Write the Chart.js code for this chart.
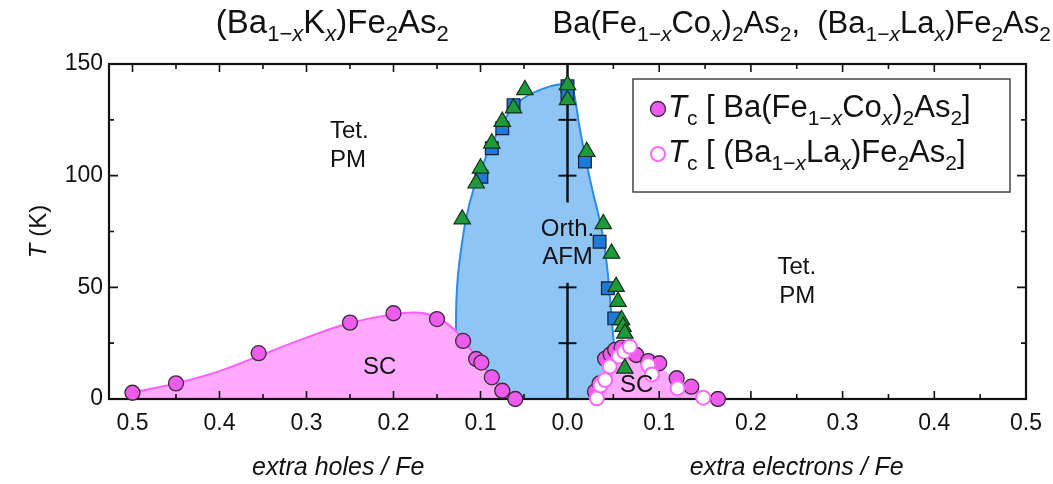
<!DOCTYPE html>
<html>
<head>
<meta charset="utf-8">
<script src="https://cdn.jsdelivr.net/npm/chart.js@4.4.1/dist/chart.umd.min.js"></script>
<style>
  html, body { margin: 0; padding: 0; background: #fff; }
</style>
</head>
<body>
<canvas id="phase" width="1053" height="484"></canvas>
<script>
// --- data (x: doping per Fe, holes negative; T in K) ---

// (Ba1-xKx)Fe2As2 Tc points (hole side)
var kX  = [-0.50, -0.45, -0.355, -0.25, -0.20, -0.15, -0.12, -0.105, -0.099, -0.087, -0.075, -0.06];
var kTc = [2.8, 7.0, 20.5, 34.2, 38.4, 35.8, 26.0, 17.9, 16.3, 9.7, 3.7, 0];

// SC dome guide line, hole side
var kCurveX = [-0.50, -0.45, -0.40, -0.35, -0.30, -0.25, -0.20, -0.17, -0.15, -0.13, -0.11, -0.09, -0.075, -0.06];
var kCurveT = [3, 7, 12.5, 20, 27.5, 34, 38, 38.6, 36.5, 31, 21.5, 11.5, 4, 0];

// AFM dome outline
var domeLX = [-0.128, -0.128, -0.126, -0.123, -0.117, -0.108, -0.098, -0.089, -0.075, -0.062, -0.045, -0.031, -0.015, 0];
var domeLT = [0, 40, 55, 65, 80, 94, 104, 113, 123, 131, 136, 138.5, 140.5, 141];
var domeRX = [-0.003, 0, 0.006, 0.013, 0.020, 0.028, 0.034, 0.039, 0.044, 0.048, 0.052, 0.056];
var domeRT = [141, 141, 138.5, 122, 107, 92, 82, 72, 56, 37, 18, 0];

// SC region, electron side
var scRX = [0.028, 0.033, 0.040, 0.048, 0.056, 0.065, 0.075, 0.09, 0.11, 0.13, 0.15, 0.167];
var scRT = [0, 6, 14, 19.5, 22, 23.5, 22, 17.5, 11.5, 6.5, 2.5, 0];

// transition temperatures (triangles / squares)
var triLX = [-0.121, -0.105, -0.100, -0.087, -0.075, -0.062, -0.049, 0];
var triLT = [80.5, 96.6, 103.3, 114.5, 124.2, 130.2, 138.4, 140.6];
var triRX = [0, 0.021, 0.039, 0.048, 0.053, 0.055, 0.059, 0.0605, 0.0625, 0.0625];
var triRT = [133.9, 110.7, 78.4, 65.2, 50.3, 43.6, 35.4, 32.4, 29.4, 13.7];
var sqLX = [-0.099, -0.087, -0.075, -0.062];
var sqLT = [99.5, 112.3, 121.2, 131.6];
var sqRX = [0, 0, 0.019, 0.035, 0.044, 0.051];
var sqRT = [140, 136.5, 106.3, 70.4, 49.6, 36.1];

// Tc Ba(Fe1-xCox)2As2
var coX  = [0.030, 0.035, 0.041, 0.047, 0.052, 0.059, 0.066, 0.075, 0.088, 0.100, 0.119, 0.135, 0.164];
var coTc = [3.3, 7, 18, 20, 22, 23, 22.7, 19.7, 17, 16, 9.3, 5.5, 0];

// Tc (Ba1-xLax)Fe2As2
var laX  = [0.032, 0.036, 0.041, 0.046, 0.056, 0.062, 0.068, 0.088, 0.092, 0.12, 0.148];
var laTc = [0.3, 6, 8.5, 14.5, 19, 21.2, 23.4, 15.2, 11, 4.8, 0.6];

// vertical guide at x = 0 (broken around the label) and its ticks
var zeroLowT = [0, 52];
var zeroHighT = [88, 150];
var zeroTickT = [25, 50, 100, 125];

// axis ticks
var xTickVals = [0.05, 0.1, 0.15, 0.2, 0.25, 0.3, 0.35, 0.4, 0.45, 0.5];
var tTickVals = [25, 50, 75, 100, 125];

var FONT = '"Liberation Sans", Arial, Helvetica, sans-serif';
Chart.defaults.font.family = FONT;
Chart.defaults.color = '#111';

function pts(xs, ys) {
  return xs.map(function (x, i) { return { x: x, y: ys[i] }; });
}
function xsAt(v, arr) { return arr.map(function () { return v; }); }

// rich text: runs of [text, style], style n / i / s (sub) / si (sub italic)
function runFont(st, size) {
  var sub = st.indexOf('s') >= 0;
  return (st.indexOf('i') >= 0 ? 'italic ' : '') + Math.round(sub ? size * 0.68 : size) + 'px ' + FONT;
}
function drawRich(ctx, runs, x, y, size, align) {
  var w = 0;
  runs.forEach(function (r) { ctx.font = runFont(r[1], size); w += ctx.measureText(r[0]).width; });
  var cx = align === 'center' ? x - w / 2 : x;
  ctx.textAlign = 'left';
  ctx.textBaseline = 'alphabetic';
  runs.forEach(function (r) {
    ctx.font = runFont(r[1], size);
    ctx.fillText(r[0], cx, y + (r[1].indexOf('s') >= 0 ? size * 0.25 : 0));
    cx += ctx.measureText(r[0]).width;
  });
}

var title1 = [['(Ba','n'],['1\u2212','s'],['x','si'],['K','n'],['x','si'],[')Fe','n'],['2','s'],['As','n'],['2','s']];
var title2 = [['Ba(Fe','n'],['1\u2212','s'],['x','si'],['Co','n'],['x','si'],[')','n'],['2','s'],['As','n'],['2','s'],
  [',  (Ba','n'],['1\u2212','s'],['x','si'],['La','n'],['x','si'],[')Fe','n'],['2','s'],['As','n'],['2','s']];
var leg1 = [['T','i'],['c','s'],[' [ Ba(Fe','n'],['1\u2212','s'],['x','si'],['Co','n'],['x','si'],[')','n'],['2','s'],['As','n'],['2','s'],[']','n']];
var leg2 = [['T','i'],['c','s'],[' [ (Ba','n'],['1\u2212','s'],['x','si'],['La','n'],['x','si'],[')Fe','n'],['2','s'],['As','n'],['2','s'],[']','n']];

var notes = [
  { axis: 'xL', x: -0.273, t: 120, text: 'Tet.', align: 'left' },
  { axis: 'xL', x: -0.273, t: 107, text: 'PM', align: 'left' },
  { axis: 'xR', x: 0.229, t: 59, text: 'Tet.', align: 'left' },
  { axis: 'xR', x: 0.231, t: 46, text: 'PM', align: 'left' },
  { axis: 'xL', x: 0, t: 76, text: 'Orth.', align: 'center' },
  { axis: 'xL', x: 0, t: 63.5, text: 'AFM', align: 'center' },
  { axis: 'xL', x: -0.216, t: 14.3, text: 'SC', align: 'center' },
  { axis: 'xR', x: 0.0754, t: 6.3, text: 'SC', align: 'center' }
];

var coStyle = { bg: '#ee5cee', border: '#3a2a3a', bw: 1.3, r: 7.5 };
var laStyle = { bg: '#ffffff', border: '#ff66ff', bw: 2, r: 7 };

// frame + inward ticks, drawn over the filled areas but under the markers
var framePlugin = {
  id: 'frame',
  afterDatasetDraw: function (chart, args) {
    if (!chart.data.datasets[args.index].frameAfter) return;
    var ctx = chart.ctx, a = chart.chartArea, s = chart.scales;
    ctx.save();
    ctx.strokeStyle = '#111';
    ctx.lineWidth = 1.6;
    ctx.beginPath();
    xTickVals.forEach(function (v) {
      var len = Math.round(v * 100) % 10 === 0 ? 8 : 5;
      [s.xL.getPixelForValue(-v), s.xR.getPixelForValue(v)].forEach(function (px) {
        ctx.moveTo(px, a.bottom); ctx.lineTo(px, a.bottom - len);
        ctx.moveTo(px, a.top); ctx.lineTo(px, a.top + len);
      });
    });
    tTickVals.forEach(function (v) {
      var len = v % 50 === 0 ? 9 : 5;
      var py = s.y.getPixelForValue(v);
      ctx.moveTo(a.left, py); ctx.lineTo(a.left + len, py);
      ctx.moveTo(a.right, py); ctx.lineTo(a.right - len, py);
    });
    ctx.stroke();
    ctx.lineWidth = 2.2;
    ctx.strokeRect(a.left, a.top, a.right - a.left, a.bottom - a.top);
    ctx.restore();
  }
};

var textPlugin = {
  id: 'texts',
  afterDraw: function (chart) {
    var ctx = chart.ctx, s = chart.scales, a = chart.chartArea;
    ctx.save();
    ctx.fillStyle = '#111';
    // headings over each half
    drawRich(ctx, title1, (s.xL.left + s.xL.right) / 2 - 6, 33, 33, 'center');
    drawRich(ctx, title2, (s.xR.left + s.xR.right) / 2 + 5, 33, 31, 'center');
    // region labels
    notes.forEach(function (n) {
      ctx.font = '24px ' + FONT;
      ctx.textAlign = n.align;
      ctx.textBaseline = 'middle';
      ctx.fillText(n.text, s[n.axis].getPixelForValue(n.x), s.y.getPixelForValue(n.t));
    });
    // y title
    ctx.save();
    ctx.translate(46, (a.top + a.bottom) / 2);
    ctx.rotate(-Math.PI / 2);
    drawRich(ctx, [['T', 'i'], [' (K)', 'n']], 0, 0, 24, 'center');
    ctx.restore();
    // legend
    var bx = 633, by = 79, bw = 377, bh = 113;
    ctx.fillStyle = '#fff';
    ctx.fillRect(bx, by, bw, bh);
    ctx.strokeStyle = '#444';
    ctx.lineWidth = 1.5;
    ctx.strokeRect(bx, by, bw, bh);
    [[coStyle, leg1, 109], [laStyle, leg2, 154]].forEach(function (e) {
      var st = e[0];
      ctx.beginPath();
      ctx.arc(bx + 25, by + e[2] - 79, st.r, 0, Math.PI * 2);
      ctx.fillStyle = st.bg;
      ctx.fill();
      ctx.lineWidth = st.bw;
      ctx.strokeStyle = st.border;
      ctx.stroke();
      ctx.fillStyle = '#111';
      drawRich(ctx, e[1], bx + 35, by + e[2] - 79 + 8, 31, 'left');
    });
    ctx.restore();
  }
};

var tickFont = { size: 23 };

new Chart('phase', {
  type: 'scatter',
  data: {
    datasets: [
      { type: 'line', data: pts(domeLX, domeLT), xAxisID: 'xL', yAxisID: 'y', borderColor: '#2b8be6', borderWidth: 2,
        backgroundColor: '#8ec5f5', fill: 'origin', pointRadius: 0, tension: 0.35, order: 20 },
      { type: 'line', data: pts(domeRX, domeRT), xAxisID: 'xR', yAxisID: 'y', borderColor: '#2b8be6', borderWidth: 2,
        backgroundColor: '#8ec5f5', fill: 'origin', pointRadius: 0, tension: 0.35, order: 20,
        clip: { left: 4, top: 2, right: 0, bottom: 0 } },
      { type: 'line', data: pts(kCurveX, kCurveT), xAxisID: 'xL', yAxisID: 'y', borderColor: '#ff5cff', borderWidth: 2,
        backgroundColor: '#ffaaff', fill: 'origin', pointRadius: 0, tension: 0.4, order: 19 },
      { type: 'line', data: pts(scRX, scRT), xAxisID: 'xR', yAxisID: 'y', borderColor: 'rgba(0,0,0,0)', borderWidth: 0,
        backgroundColor: '#ffaaff', fill: 'origin', pointRadius: 0, tension: 0.4, order: 18, frameAfter: true },
      { type: 'line', data: pts(xsAt(0, zeroLowT), zeroLowT), xAxisID: 'xL', yAxisID: 'y', borderColor: '#111',
        borderWidth: 2.5, pointRadius: 0, fill: false, clip: false, order: 15 },
      { type: 'line', data: pts(xsAt(0, zeroHighT), zeroHighT), xAxisID: 'xL', yAxisID: 'y', borderColor: '#111',
        borderWidth: 2.5, pointRadius: 0, fill: false, clip: false, order: 15 },
      { data: pts(xsAt(0, zeroTickT), zeroTickT), xAxisID: 'xL', yAxisID: 'y', pointStyle: 'line', pointRadius: 9,
        borderColor: '#111', borderWidth: 2, clip: false, order: 15 },
      { data: pts(sqLX, sqLT), xAxisID: 'xL', yAxisID: 'y', pointStyle: 'rect', pointRadius: 9,
        backgroundColor: '#2079d6', borderColor: '#132033', borderWidth: 1.2, clip: false, order: 10 },
      { data: pts(sqRX, sqRT), xAxisID: 'xR', yAxisID: 'y', pointStyle: 'rect', pointRadius: 9,
        backgroundColor: '#2079d6', borderColor: '#132033', borderWidth: 1.2, clip: false, order: 10 },
      { data: pts(kX, kTc), xAxisID: 'xL', yAxisID: 'y', pointStyle: 'circle', pointRadius: coStyle.r,
        backgroundColor: coStyle.bg, borderColor: coStyle.border, borderWidth: coStyle.bw, clip: false, order: 8 },
      { data: pts(coX, coTc), xAxisID: 'xR', yAxisID: 'y', pointStyle: 'circle', pointRadius: coStyle.r,
        backgroundColor: coStyle.bg, borderColor: coStyle.border, borderWidth: coStyle.bw, clip: false, order: 8 },
      { data: pts(laX, laTc), xAxisID: 'xR', yAxisID: 'y', pointStyle: 'circle', pointRadius: laStyle.r,
        backgroundColor: laStyle.bg, borderColor: laStyle.border, borderWidth: laStyle.bw, clip: false, order: 7 },
      { data: pts(triLX, triLT), xAxisID: 'xL', yAxisID: 'y', pointStyle: 'triangle', pointRadius: 9.5,
        backgroundColor: '#1f9a3a', borderColor: '#15311a', borderWidth: 1.2, clip: false, order: 5 },
      { data: pts(triRX, triRT), xAxisID: 'xR', yAxisID: 'y', pointStyle: 'triangle', pointRadius: 9.5,
        backgroundColor: '#1f9a3a', borderColor: '#15311a', borderWidth: 1.2, clip: false, order: 5 }
    ]
  },
  options: {
    responsive: false,
    animation: false,
    events: [],
    layout: { padding: { left: 0, right: 26, top: 64, bottom: 0 } },
    plugins: { legend: { display: false }, tooltip: { enabled: false } },
    scales: {
      xL: {
        type: 'linear', position: 'bottom', stack: 'bottomx', stackWeight: 1,
        min: -0.527, max: 0,
        grid: { display: false, drawTicks: false }, border: { display: false },
        ticks: { stepSize: 0.1, includeBounds: false, autoSkip: false, maxRotation: 0, padding: 11, font: tickFont,
          callback: function (v) { return Math.abs(v).toFixed(1); } },
        title: { display: true, text: 'extra holes / Fe', font: { size: 25, style: 'italic' }, padding: { top: 0, bottom: 1 } },
        afterFit: function (sc) { sc.height = 85; }
      },
      xR: {
        type: 'linear', position: 'bottom', stack: 'bottomx', stackWeight: 1,
        min: 0, max: 0.5,
        grid: { display: false, drawTicks: false }, border: { display: false },
        ticks: { stepSize: 0.1, includeBounds: false, autoSkip: false, maxRotation: 0, padding: 11, font: tickFont,
          callback: function (v) { return v === 0 ? '' : v.toFixed(1); } },
        title: { display: true, text: 'extra electrons / Fe', font: { size: 25, style: 'italic' }, padding: { top: 0, bottom: 1 } },
        afterFit: function (sc) { sc.height = 85; }
      },
      y: {
        type: 'linear', position: 'left', min: 0, max: 150,
        grid: { display: false, drawTicks: false }, border: { display: false },
        ticks: { stepSize: 50, padding: 6, font: tickFont },
        afterFit: function (sc) { sc.width = 109; }
      }
    }
  },
  plugins: [framePlugin, textPlugin]
});
</script>
</body>
</html>
